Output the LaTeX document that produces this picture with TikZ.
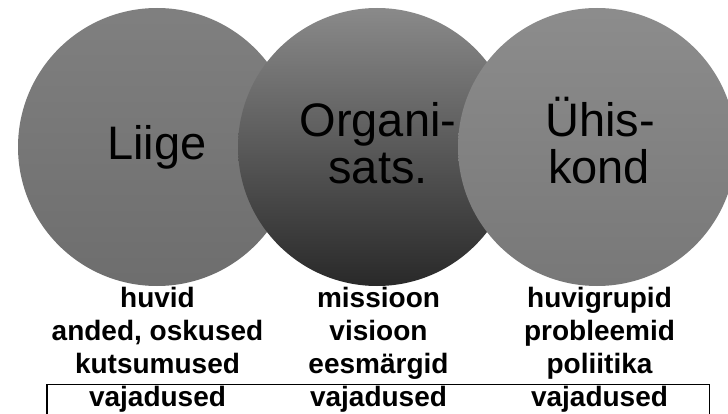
\documentclass[tikz,border=0pt]{standalone}
\usepackage{fontspec}
\setmainfont{Liberation Sans}
\begin{document}
\begin{tikzpicture}[x=1pt,y=-1pt,
  big/.style={font=\fontsize{47}{47}\selectfont, align=center, anchor=base, inner sep=0pt},
  small/.style={font=\fontsize{28}{33}\selectfont\bfseries, anchor=base, inner sep=0pt}]
\useasboundingbox (0,0) rectangle (728,414);
\begin{scope}
\clip (0,0) rectangle (728,414);
\shade[top color=black!50, bottom color=black!57] (157,147) circle (139);
\shade[top color=black!46, bottom color=black!84] (377,147) circle (139);
\shade[top color=black!45, bottom color=black!53] (597,147) circle (139);
\node[big] (liige) at (157,160) {Liige};
\node[big] (org1) at (378,137) {Organi-};
\node[big] (org2) at (378,184) {sats.};
\node[big] (uh1) at (600,137) {Ühis-};
\node[big] (uh2) at (599,184) {kond};
\node[small] (a1) at (157.5,307) {huvid};
\node[small] (a2) at (157.5,340) {anded, oskused};
\node[small] (a3) at (157.5,373) {kutsumused};
\node[small] (a4) at (157.5,406) {vajadused};
\node[small] (b1) at (378.5,307) {missioon};
\node[small] (b2) at (378.5,340) {visioon};
\node[small] (b3) at (378.5,373) {eesmärgid};
\node[small] (b4) at (378.5,406) {vajadused};
\node[small] (c1) at (599.5,307) {huvigrupid};
\node[small] (c2) at (599.5,340) {probleemid};
\node[small] (c3) at (599.5,373) {poliitika};
\node[small] (c4) at (599.5,406) {vajadused};
\draw[line width=1.8pt] (47,430) -- (47,384.5) -- (709.5,384.5) -- (709.5,430);
\end{scope}
\end{tikzpicture}
\end{document}
